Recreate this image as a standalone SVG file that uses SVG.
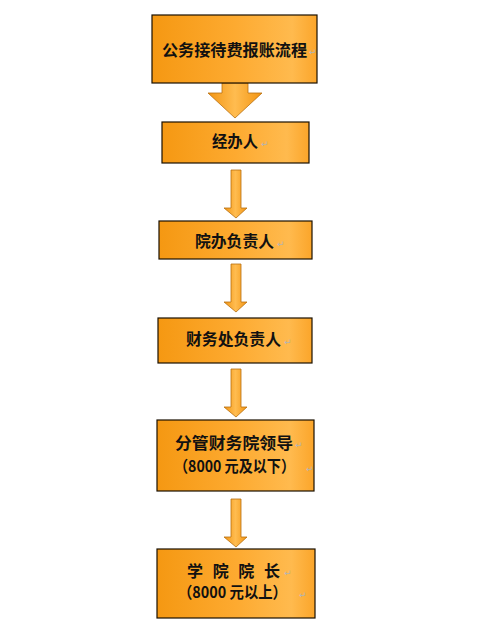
<svg xmlns="http://www.w3.org/2000/svg" width="488" height="643" viewBox="0 0 488 643">
<defs>
<linearGradient id="gBox" x1="0" y1="0" x2="1" y2="0">
<stop offset="0" stop-color="#F59812"/>
<stop offset="0.5" stop-color="#FDAA30"/>
<stop offset="0.85" stop-color="#FFBA4E"/>
<stop offset="1" stop-color="#FBA52A"/>
</linearGradient>
<linearGradient id="gArr" x1="0" y1="0" x2="1" y2="0">
<stop offset="0" stop-color="#F39512"/>
<stop offset="0.5" stop-color="#FFBC50"/>
<stop offset="1" stop-color="#F39512"/>
</linearGradient>
<style>
.box{fill:url(#gBox);stroke:#1a1000;stroke-width:1.2}
.arr{fill:url(#gArr);stroke:#B87010;stroke-width:0.8}
.t{font-family:"Noto Sans CJK SC","Liberation Sans",sans-serif;font-size:16px;font-weight:700;fill:#111}
.r{font-family:"DejaVu Sans",sans-serif;font-size:9px;fill:#b5b5b5}
</style>
</defs>
<rect width="488" height="643" fill="#fff"/>
<g id="connectors">
<polygon class="arr" points="222,83 248,83 248,93 262,93 235,118 208,93 222,93"/>
<polygon class="arr" points="231,170 241,170 241,208 247,208 236,218 224,208 231,208"/>
<polygon class="arr" points="231,264 241,264 241,302 247,302 236,312 224,302 231,302"/>
<polygon class="arr" points="231,369 241,369 241,407 247,407 236,417 224,407 231,407"/>
<polygon class="arr" points="231,499 241,499 241,537 247,537 236,547 224,537 231,537"/>
</g>
<g id="n1">
<rect class="box" x="152" y="15" width="165" height="68"/>
<text class="t" x="162" y="56" textLength="145" lengthAdjust="spacingAndGlyphs">公务接待费报账流程</text>
<text class="r" x="309" y="55">↵</text>
</g>
<g id="n2">
<rect class="box" x="162" y="122" width="147" height="41"/>
<text class="t" x="212" y="147" textLength="46" lengthAdjust="spacingAndGlyphs">经办人</text>
<text class="r" x="261" y="147">↵</text>
</g>
<g id="n3">
<rect class="box" x="159" y="221" width="153" height="38"/>
<text class="t" x="195" y="247" textLength="79" lengthAdjust="spacingAndGlyphs">院办负责人</text>
<text class="r" x="277" y="247">↵</text>
</g>
<g id="n4">
<rect class="box" x="158" y="318" width="154" height="45"/>
<text class="t" x="186" y="345" textLength="95" lengthAdjust="spacingAndGlyphs">财务处负责人</text>
<text class="r" x="284" y="345">↵</text>
</g>
<g id="n5">
<rect class="box" x="157" y="420" width="157" height="71"/>
<text class="t" x="175" y="449" textLength="118" lengthAdjust="spacingAndGlyphs">分管财务院领导</text>
<text class="r" x="295" y="448">↵</text>
<text class="t" x="174" y="472" textLength="121" lengthAdjust="spacingAndGlyphs">（8000 元及以下）</text>
<text class="r" x="306" y="472">↵</text>
</g>
<g id="n6">
<rect class="box" x="157" y="549" width="158" height="69"/>
<text class="t" x="187" y="577" textLength="93" lengthAdjust="spacing">学 院 院 长</text>
<text class="r" x="284" y="576">↵</text>
<text class="t" x="178" y="598" textLength="109" lengthAdjust="spacingAndGlyphs">（8000 元以上）</text>
<text class="r" x="299" y="598">↵</text>
</g>
</svg>
